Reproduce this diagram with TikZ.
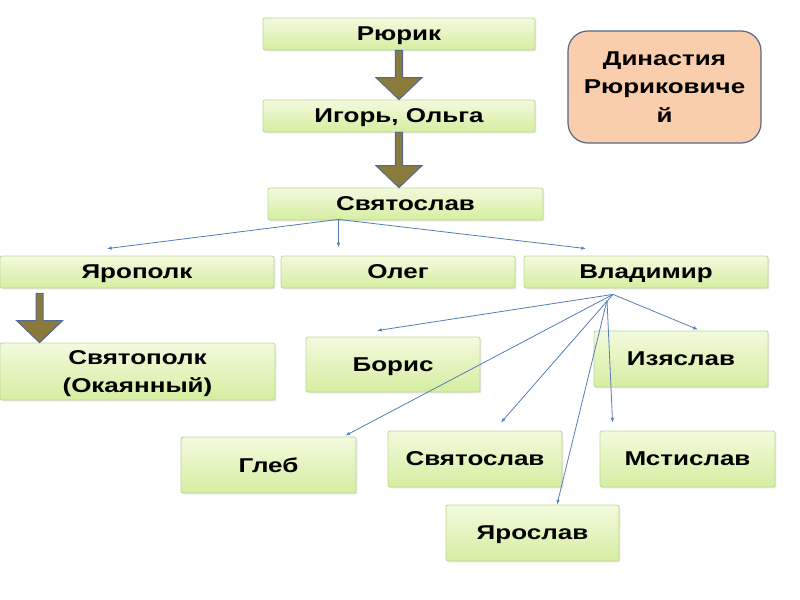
\documentclass[tikz,border=0pt]{standalone}
\usepackage{fontspec}
\newfontfamily\labfont[FakeStretch=1.3]{Liberation Sans Bold}
\usetikzlibrary{calc,arrows.meta,shadows}
\definecolor{gtop}{RGB}{243,250,222}
\definecolor{gbot}{RGB}{213,238,160}
\definecolor{gborder}{RGB}{190,214,146}
\definecolor{peach}{RGB}{250,205,172}
\definecolor{peachborder}{RGB}{84,104,134}
\definecolor{olive}{RGB}{138,122,60}
\definecolor{arrborder}{RGB}{82,106,148}
\definecolor{thin}{RGB}{84,124,184}
\begin{document}
\begin{tikzpicture}[x=0.75pt,y=-0.75pt,
  gbox/.style 2 args={draw=gborder, line width=0.6pt, top color=gtop, bottom color=gbot,
    rounded corners=1.5pt, minimum width=#1*0.75pt, minimum height=#2*0.75pt, inner sep=0pt,
    align=center, text depth=0pt, font=\labfont\fontsize{15}{21.5}\selectfont,
    drop shadow={opacity=0.18, shadow xshift=1pt, shadow yshift=-1pt}},
  dinbox/.style={draw=peachborder, line width=0.9pt, fill=peach, rounded corners=15pt,
    minimum width=193*0.75pt, minimum height=112*0.75pt, inner sep=0pt, align=center,
    text depth=0pt, font=\labfont\fontsize{15}{21.5}\selectfont},
  fatarr/.style={draw=arrborder, line width=0.8pt, fill=olive, line join=miter},
  thinarr/.style={draw=thin, line width=0.6pt, -{Latex[length=3.5pt,width=2.6pt]}}]
\useasboundingbox (0,0) rectangle (800,600);

\newcommand\fatarrow[2]{%
  \draw[fatarr] ($(#1)+(-3.5,0)$) -- ($(#2)+(-3.5,-22)$) -- ($(#2)+(-23,-22)$) -- (#2)
    -- ($(#2)+(23,-22)$) -- ($(#2)+(3.5,-22)$) -- ($(#1)+(3.5,0)$) -- cycle;}

% boxes
\node[gbox={272}{32}] (rurik) at (399,34) {Рюрик};
\node[gbox={272}{32}] (igor) at (399,116) {Игорь, Ольга};
\node[gbox={275}{32}] (svyat) at (405.5,204) {Святослав};
\node[dinbox] (din) at (664.5,87) {Династия\\Рюриковиче\\й};
\node[gbox={274}{32}] (yarop) at (137,272) {Ярополк};
\node[gbox={234}{32}] (oleg) at (398,272) {Олег};
\node[gbox={244}{32}] (vlad) at (646,272) {Владимир};
\node[gbox={275}{57}] (svyatop) at (137.5,371.5) {Святополк\\(Окаянный)};
\node[gbox={174}{55}] (boris) at (393,364.5) {Борис};
\node[gbox={174}{56}] (izya) at (681,359) {Изяслав};
\node[gbox={175}{56}] (gleb) at (268.5,465) {Глеб};
\node[gbox={174}{56}] (svyat2) at (475,459) {Святослав};
\node[gbox={175}{56}] (mstis) at (687.5,459) {Мстислав};
\node[gbox={173}{56}] (yaros) at (532.5,533) {Ярослав};

% fat arrows
\fatarrow{rurik.south}{igor.north}
\fatarrow{igor.south}{$(svyat.north)+(-6.5,0)$}
\coordinate (ya1) at ($(yarop.south west)+(40,5)$);
\coordinate (ya2) at ($(svyatop.north west)+(40,0)$);
\fatarrow{ya1}{ya2}

% thin arrows from Svyatoslav
\coordinate (sv) at ($(svyat.south)+(-67,-1)$);
\coordinate (e1) at ($(yarop.north)+(-30,-7)$);
\coordinate (e2) at ($(svyat.south)+(-67,27)$);
\coordinate (e3) at ($(vlad.north)+(-60,-7)$);
\draw[thinarr] (sv) -- (e1);
\draw[thinarr] (sv) -- (e2);
\draw[thinarr] (sv) -- (e3);

% thin arrows from Vladimir
\coordinate (v1) at ($(vlad.south)+(-33,6)$);
\coordinate (v2) at ($(vlad.south)+(-39,12)$);
\coordinate (tb) at ($(boris.north)+(-16,-6)$);
\coordinate (ti) at ($(izya.north)+(17,-1)$);
\coordinate (tg) at ($(gleb.north east)+(-11,-1)$);
\coordinate (ts) at ($(svyat2.north)+(26,-8)$);
\coordinate (tm) at ($(mstis.north west)+(13,-8)$);
\coordinate (ty) at ($(yaros.north)+(24.5,0)$);
\draw[thinarr] (v1) -- (tb);
\draw[thinarr] (v1) -- (ti);
\draw[thinarr] (v1) -- (tg);
\draw[thinarr] (v1) -- (ts);
\draw[thinarr] (v2) -- (tm);
\draw[thinarr] (v2) -- (ty);
\end{tikzpicture}
\end{document}
